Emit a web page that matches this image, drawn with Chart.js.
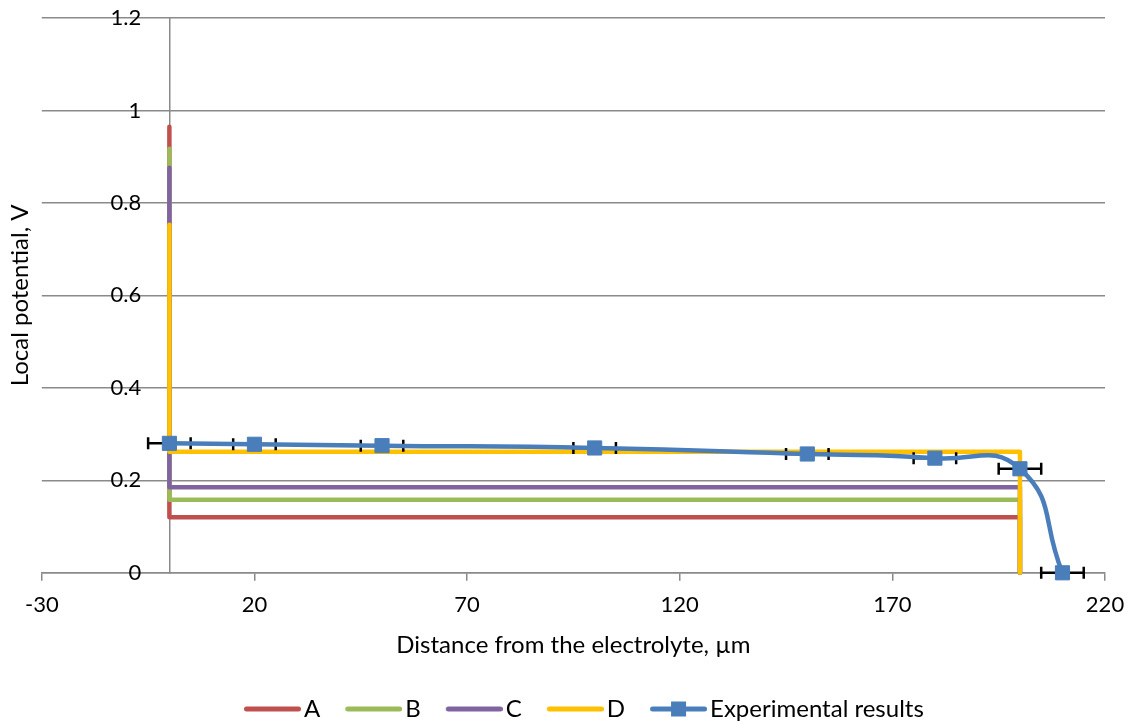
<!DOCTYPE html>
<html>
<head>
<meta charset="utf-8">
<script src="https://cdn.jsdelivr.net/npm/chart.js@4.4.1/dist/chart.umd.min.js"></script>
<style>
  html, body { margin: 0; padding: 0; background: #fff; }
  #wrap { width: 1132px; height: 724px; }
</style>
</head>
<body>
<div id="wrap"><canvas id="chart" width="1132" height="724"></canvas></div>
<script>
// series names and colours (legend order)
const seriesNames = ['A', 'B', 'C', 'D', 'Experimental results'];
const seriesColors = ['#C0504D', '#9BBB59', '#8064A2', '#FFC000', '#4A7EBB'];

// model curves: drop at the electrolyte side, plateau, drop at 200 µm
const stepX = [0, 0, 200, 200];
const aY = [0.965, 0.12, 0.12, 0];
const bY = [0.917, 0.158, 0.158, 0];
const cY = [0.876, 0.185, 0.185, 0];
const dY = [0.753, 0.262, 0.262, 0];

// experimental points with horizontal error (µm)
const expX = [0, 20, 50, 100, 150, 180, 200, 210];
const expY = [0.28, 0.278, 0.275, 0.27, 0.257, 0.248, 0.225, 0];
const expErr = [5, 5, 5, 5, 5, 5, 5, 5];

// axis ticks
const xTicks = [-30, 20, 70, 120, 170, 220];
const xTickLabels = ['-30', '20', '70', '120', '170', '220'];
const yTicks = [0, 0.2, 0.4, 0.6, 0.8, 1, 1.2];
const yTickLabels = ['0', '0.2', '0.4', '0.6', '0.8', '1', '1.2'];

const tickFont = { family: 'Lato', size: 22 };
const textFont = { family: 'Lato', size: 24 };
const textColor = '#000';
const gridColor = '#8a8a8a';
const Y_LABEL_GAP = '     '; // keeps y labels clear of the axis line at x = 0

const toPoints = (xs, ys) => xs.map((x, i) => ({ x: x, y: ys[i] }));
const noPad = s => { s.paddingLeft = 0; s.paddingRight = 0; s.paddingTop = 0; s.paddingBottom = 0; };

// legend glyphs: a line (and a square for the experimental series)
const LEG_LINE = 57, LEG_START = 21, LEG_BOX = 69;
function legendIcon(color, marker) {
    const c = LEG_BOX / 2;
    const w = 2 * (LEG_START + LEG_LINE - c);
    const x0 = w / 2 - (c - LEG_START);
    const cv = document.createElement('canvas');
    cv.width = w;
    cv.height = 18;
    const g = cv.getContext('2d');
    g.strokeStyle = color;
    g.lineWidth = 5;
    g.lineCap = 'round';
    g.beginPath();
    g.moveTo(x0 + 2.5, 9);
    g.lineTo(x0 + LEG_LINE - 2.5, 9);
    g.stroke();
    if (marker) {
        g.fillStyle = color;
        g.fillRect(x0 + LEG_LINE / 2 - 7.5, 1.5, 15, 15);
    }
    return cv;
}
const legendIcons = seriesColors.map((c, i) => legendIcon(c, i === 4));

// horizontal error bars, drawn just under the experimental line
const errorBars = {
    id: 'errorBars',
    beforeDatasetDraw(chart, args) {
        if (args.index !== 4) return;
        const sx = chart.scales.x, sy = chart.scales.y;
        const ctx = chart.ctx;
        ctx.save();
        ctx.strokeStyle = '#000';
        ctx.lineWidth = 2.5;
        expX.forEach((v, i) => {
            const x0 = sx.getPixelForValue(v - expErr[i]);
            const x1 = sx.getPixelForValue(v + expErr[i]);
            const py = sy.getPixelForValue(expY[i]);
            ctx.beginPath();
            ctx.moveTo(x0, py); ctx.lineTo(x1, py);
            ctx.moveTo(x0, py - 6); ctx.lineTo(x0, py + 6);
            ctx.moveTo(x1, py - 6); ctx.lineTo(x1, py + 6);
            ctx.stroke();
        });
        ctx.restore();
    }
};

const modelSet = (i, ys) => ({
    label: seriesNames[i],
    data: toPoints(stepX, ys),
    borderColor: seriesColors[i],
    backgroundColor: seriesColors[i],
    borderWidth: 4.5,
    borderCapStyle: 'round',
    borderJoinStyle: 'round',
    pointRadius: 0,
    pointHoverRadius: 0,
    tension: 0,
    clip: false,
    order: 4 - i
});

new Chart(document.getElementById('chart'), {
    type: 'line',
    data: {
        datasets: [
            modelSet(0, aY),
            modelSet(1, bY),
            modelSet(2, cY),
            modelSet(3, dY),
            {
                label: seriesNames[4],
                data: toPoints(expX, expY),
                borderColor: seriesColors[4],
                backgroundColor: seriesColors[4],
                borderWidth: 4.5,
                pointStyle: 'rect',
                pointRadius: 10,
                pointHoverRadius: 10,
                pointBorderWidth: 1,
                pointBorderColor: seriesColors[4],
                pointBackgroundColor: seriesColors[4],
                tension: 0.5,
                clip: false,
                order: 0
            }
        ]
    },
    options: {
        responsive: false,
        animation: false,
        events: [],
        layout: { padding: { left: 0, right: 27, top: 18, bottom: -7 } },
        plugins: {
            tooltip: { enabled: false },
            legend: {
                position: 'bottom',
                fullSize: false,
                labels: {
                    font: textFont,
                    color: textColor,
                    usePointStyle: true,
                    pointStyleWidth: LEG_BOX,
                    padding: 4,
                    sort: (a, b) => a.datasetIndex - b.datasetIndex,
                    generateLabels: (chart) => {
                        const items = Chart.defaults.plugins.legend.labels.generateLabels(chart);
                        items.forEach(it => { it.pointStyle = legendIcons[it.datasetIndex]; });
                        return items;
                    }
                }
            }
        },
        scales: {
            x: {
                type: 'linear',
                position: 'bottom',
                min: -30,
                max: 220,
                afterBuildTicks: s => { s.ticks = xTicks.map(v => ({ value: v })); },
                afterFit: noPad,
                ticks: {
                    font: tickFont,
                    color: textColor,
                    padding: 11,
                    maxRotation: 0,
                    callback: v => xTickLabels[xTicks.indexOf(v)]
                },
                grid: { display: true, drawOnChartArea: false, drawTicks: true, tickLength: 8, color: gridColor, lineWidth: 1.5 },
                border: { display: true, color: gridColor, width: 1.5 },
                title: {
                    display: true,
                    text: 'Distance from the electrolyte, µm',
                    font: textFont,
                    color: textColor,
                    padding: { top: 2, bottom: 33 }
                }
            },
            y: {
                type: 'linear',
                position: { x: 0 },
                min: 0,
                max: 1.2,
                afterBuildTicks: s => { s.ticks = yTicks.map(v => ({ value: v })); },
                afterFit: noPad,
                ticks: {
                    font: tickFont,
                    color: textColor,
                    padding: 0,
                    callback: v => yTickLabels[yTicks.indexOf(v)] + Y_LABEL_GAP
                },
                grid: { color: gridColor, lineWidth: 1.5, drawTicks: false },
                border: { display: true, color: gridColor, width: 1.5 }
            },
            yTitle: {
                type: 'linear',
                position: 'left',
                min: 0,
                max: 1.2,
                afterFit: noPad,
                ticks: { display: false },
                grid: { display: false, drawTicks: false },
                border: { display: false },
                title: {
                    display: true,
                    text: 'Local potential, V',
                    font: textFont,
                    color: textColor,
                    padding: { top: 6, bottom: 7 }
                }
            }
        }
    },
    plugins: [errorBars]
});
</script>
</body>
</html>
